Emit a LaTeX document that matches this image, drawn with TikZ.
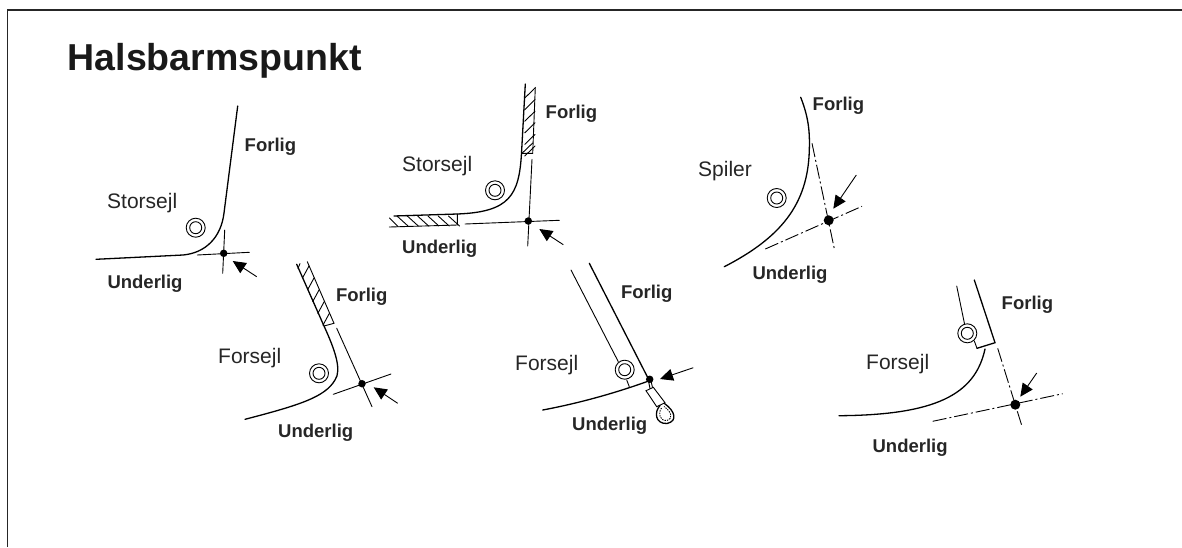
\documentclass[tikz,border=0pt]{standalone}
\usepackage{fontspec}
\setmainfont{Liberation Sans}
\usetikzlibrary{arrows.meta}
\tikzset{
  ln/.style={line width=1.3pt,line cap=round},
  thin ln/.style={line width=0.9pt,line cap=round},
  dd/.style={line width=0.9pt,dash pattern=on 14pt off 3pt on 2pt off 3pt},
  arr/.style={line width=0.9pt,-{Triangle[length=13pt,width=12pt]}},
  lbl/.style={font=\fontsize{18.5}{20}\selectfont\bfseries,inner sep=0pt,anchor=base west,text=black!85},
  sail/.style={font=\fontsize{21}{23}\selectfont,inner sep=0pt,anchor=base west,text=black!85},
  dotsmall/.style={circle,fill=black,inner sep=0pt,minimum size=7.5pt},
  dotbig/.style={circle,fill=black,inner sep=0pt,minimum size=10pt}
}
\newcommand{\ringat}[1]{\draw[line width=0.9pt] #1 circle (9.5pt) #1 circle (6pt);}
\begin{document}
\begin{tikzpicture}[x=1pt,y=-1pt]
\useasboundingbox (0,0) rectangle (1182,547);
\fill[white] (0,0) rectangle (1182,547);
\draw[line width=1.3pt,black!85] (7.5,547) -- (7.5,10) -- (1182,10);
\node[inner sep=0pt,anchor=base west,font=\fontsize{37.5}{40}\selectfont\bfseries,text=black!90] (title) at (67.5,70) {Halsbarmspunkt};

% 1 Storsejl
\draw[ln] (237.7,106) -- (224,213) .. controls (221,238) and (205,253) .. (183,255) -- (96,259.3);
\ringat{(195.7,227.7)}
\node[dotsmall] (d1) at (223.7,253.3) {};
\draw[thin ln] (224.7,230) -- (222.7,273.3) (197.3,255) -- (249.3,252.3);
\coordinate (a1) at (256.7,276.7); \coordinate (t1) at (232.7,261);
\draw[arr] (a1) -- (t1);
\node[lbl] (f1) at (244.5,151) {Forlig};
\node[sail] (s1) at (107,208) {Storsejl};
\node[lbl] (u1) at (107.3,288) {Underlig};

% 2 Storsejl hatched
\draw[ln] (525.3,84) -- (521.5,153.3) .. controls (519,195) and (510,212) .. (457.3,214) -- (394,216);
\draw[thin ln] (535.3,87.3) -- (532.7,153.3) -- (521.5,153.3);
\draw[thin ln] (389.3,227) -- (457.3,225) -- (457.3,214);
\foreach \i in {0,...,5}{
  \draw[thin ln] (535,{88+\i*11.6}) -- (524.8,{98+\i*11.6});
}
\draw[thin ln] (532.7,143) -- (522,153.3);
\foreach \i in {0,...,5}{
  \draw[thin ln] ({397+\i*10.3},216) -- ({408+\i*10.3},226);
}
\draw[thin ln] (389.5,218) -- (398,226.5);
\ringat{(495,190.3)}
\node[dotsmall] (d2) at (528.3,221) {};
\draw[thin ln] (532,159.3) -- (527.7,246) (465,224) -- (559.3,220.3);
\coordinate (a2) at (563.3,244.7); \coordinate (t2) at (539.3,229);
\draw[arr] (a2) -- (t2);
\node[lbl] (f2) at (545.5,118) {Forlig};
\node[sail] (s2) at (402,171.7) {Storsejl};
\node[lbl] (u2) at (402,253) {Underlig};

% 3 Spiler
\draw[ln] (800.7,97.3) .. controls (808,116) and (810,130) .. (809.3,150) .. controls (808,205) and (780,238) .. (724.3,266.7);
\ringat{(776.7,198)}
\node[dotbig] (d3) at (828.7,220.3) {};
\draw[dd] (812,143.3) -- (834.3,248.7);
\draw[dd] (765.3,249) -- (862,206.3);
\coordinate (a3) at (856.3,175); \coordinate (t3) at (833.3,208.7);
\draw[arr] (a3) -- (t3);
\node[lbl] (f3) at (812.5,110) {Forlig};
\node[sail] (s3) at (698,176.7) {Spiler};
\node[lbl] (u3) at (752.3,279) {Underlig};

% 4 Forsejl hatched
\draw[ln] (296.7,264.3) -- (324,326) .. controls (335,350) and (342,370) .. (335,380) .. controls (325,397) and (300,405) .. (245,419.3);
\draw[thin ln] (307.3,261.7) -- (334,323.3) -- (324,326);
\draw[thin ln] (300,263.5) -- (298,268.5);
\foreach \i in {0,...,4}{
  \draw[thin ln] ({309+\i*5.11},{266+\i*11.8}) -- ({302.5+\i*5.11},{278+\i*11.8});
}
\ringat{(319,373.3)}
\node[dotsmall] (d4) at (362,383.7) {};
\draw[thin ln] (336.7,328.3) -- (372,406.7) (333.3,394.3) -- (391,374);
\coordinate (a4) at (397.7,403.3); \coordinate (t4) at (373.7,387.3);
\draw[arr] (a4) -- (t4);
\node[lbl] (f4) at (335.8,301.7) {Forlig};
\node[sail] (s4) at (218,363) {Forsejl};
\node[lbl] (u4) at (278,437.7) {Underlig};

% 5 Forsejl with thimble
\draw[thin ln] (571,270) -- (618.3,361.7);
\draw[ln] (589.3,263.3) -- (647.3,376.7);
\ringat{(624.7,369.7)}
\draw[thin ln] (626.7,380) -- (629.3,386.7);
\draw[ln] (542.7,410) .. controls (580,403) and (615,393) .. (646.7,381.7);
\node[dotsmall] (d5) at (649.7,379.3) {};
\coordinate (a5) at (693.3,367.7); \coordinate (t5) at (660,379);
\draw[arr] (a5) -- (t5);
\draw[thin ln] (648.5,381) -- (650,388.5) (651,381) -- (652.5,387.5);
\draw[thin ln] (646,390.7) -- (653.3,387.3) -- (665,402.7) -- (656.7,406.7) -- cycle;
\draw[ln] (660,405.5) .. controls (654,412) and (655,424) .. (667,423.5) .. controls (678,421) and (675,411) .. (664.5,403.5);
\draw[line width=0.9pt,dash pattern=on 1.4pt off 1.1pt] (661.5,408) .. controls (657.5,414) and (660,421) .. (667,420.5) .. controls (673,419) and (672,412) .. (664,406.5);
\node[lbl] (f5) at (620.8,298.3) {Forlig};
\node[sail] (s5) at (515,370.7) {Forsejl};
\node[lbl] (u5) at (572,430.7) {Underlig};

% 6 Forsejl
\draw[thin ln] (956.7,286) -- (964.5,323.8);
\draw[ln] (974.3,280) -- (995,342.7) -- (977,348.3);
\draw[thin ln] (974.3,341) -- (977,348.3);
\ringat{(967.3,333.3)}
\draw[ln] (985,349) .. controls (975,395) and (935,415) .. (839,415.7);
\node[dotbig] (d6) at (1015.3,404.7) {};
\draw[dd] (997.7,348.3) -- (1022.3,427.3);
\draw[dd] (932.7,421.3) -- (1062.7,393.7);
\coordinate (a6) at (1036.7,373); \coordinate (t6) at (1020.3,396.7);
\draw[arr] (a6) -- (t6);
\node[lbl] (f6) at (1001.5,309) {Forlig};
\node[sail] (s6) at (866,369) {Forsejl};
\node[lbl] (u6) at (872.4,452.7) {Underlig};
\end{tikzpicture}
\end{document}
